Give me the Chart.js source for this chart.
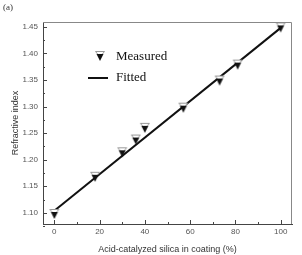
<!DOCTYPE html>
<html>
<head>
<meta charset="utf-8">
<script src="https://cdn.jsdelivr.net/npm/chart.js@4"></script>
<style>
  html, body { margin: 0; padding: 0; background: #fff; }
  #wrap { width: 302px; height: 255px; position: relative; }
  #panel { position: absolute; left: 3px; top: 2px; font: 9px "Liberation Serif", serif; color: #333; }
</style>
</head>
<body>
<div id="wrap">
  <canvas id="refChart" width="302" height="255"></canvas>
  <div id="panel">(a)</div>
</div>
<script>
// silica fraction (%) and measured refractive index
const silica = [0, 18, 30, 36, 40, 57, 73, 81, 100];
const measured = [1.096, 1.166, 1.212, 1.236, 1.258, 1.296, 1.347, 1.377, 1.447];
// fitted straight line end points
const fitX = [0, 100];
const fitY = [1.104, 1.448];
const xTicks = [0, 20, 40, 60, 80, 100];
const yTicks = [1.10, 1.15, 1.20, 1.25, 1.30, 1.35, 1.40, 1.45];

document.addEventListener('DOMContentLoaded', function () {
  const ctx = document.getElementById('refChart').getContext('2d');

  // marker: open grey triangle slightly above a filled black one
  const marker = document.createElement('canvas');
  marker.width = 12; marker.height = 16;
  const m = marker.getContext('2d');
  m.beginPath(); m.moveTo(1.5, 2.5); m.lineTo(10.5, 2.5); m.lineTo(6, 8); m.closePath();
  m.fillStyle = '#fff'; m.fill(); m.strokeStyle = '#999'; m.lineWidth = 1; m.stroke();
  m.beginPath(); m.moveTo(2.5, 5); m.lineTo(9.5, 5); m.lineTo(6, 12); m.closePath();
  m.fillStyle = '#111'; m.fill();

  const frame = {
    id: 'frame',
    afterDraw(chart) {
      const c = chart.ctx, a = chart.chartArea;
      const xs = chart.scales.x, ys = chart.scales.y;
      c.save();
      c.strokeStyle = '#888'; c.lineWidth = 1;
      c.beginPath();
      c.moveTo(a.left, a.top + 0.5); c.lineTo(a.right - 0.5, a.top + 0.5); c.lineTo(a.right - 0.5, a.bottom);
      c.stroke();
      c.strokeStyle = '#444';
      c.beginPath();
      xTicks.forEach(function (v, i) {
        const px = Math.round(xs.getPixelForValue(v)) + 0.5;
        c.moveTo(px, a.bottom); c.lineTo(px, a.bottom - 4);
        if (i < xTicks.length - 1) {
          const pm = Math.round(xs.getPixelForValue((v + xTicks[i + 1]) / 2)) + 0.5;
          c.moveTo(pm, a.bottom); c.lineTo(pm, a.bottom - 2);
        }
      });
      yTicks.forEach(function (v, i) {
        const py = Math.round(ys.getPixelForValue(v)) + 0.5;
        c.moveTo(a.left, py); c.lineTo(a.left + 4, py);
        const pm = Math.round(ys.getPixelForValue(v - 0.025)) + 0.5;
        c.moveTo(a.left, pm); c.lineTo(a.left + 2, pm);
      });
      c.stroke();

      // legend inside the plot
      const ds = chart.data.datasets;
      c.font = '13px "Liberation Serif", serif';
      c.fillStyle = '#111'; c.textBaseline = 'middle';
      c.drawImage(marker, 94, 49);
      c.fillText(ds[0].label, 116, 57);
      c.strokeStyle = '#111'; c.lineWidth = 2;
      c.beginPath(); c.moveTo(88, 78); c.lineTo(108, 78); c.stroke();
      c.fillText(ds[1].label, 116, 78);
      c.restore();
    }
  };

  new Chart(ctx, {
    type: 'scatter',
    data: {
      datasets: [{
        label: 'Measured',
        data: silica.map(function (x, i) { return { x: x, y: measured[i] }; }),
        pointStyle: marker,
        order: 0
      },
      {
        label: 'Fitted',
        type: 'line',
        data: fitX.map(function (x, i) { return { x: x, y: fitY[i] }; }),
        borderColor: '#111',
        borderWidth: 2,
        pointRadius: 0,
        fill: false,
        order: 1
      }]
    },
    options: {
      responsive: false,
      animation: false,
      events: [],
      layout: { padding: { top: 22, right: 10, left: 0, bottom: 0 } },
      plugins: {
        legend: { display: false },
        tooltip: { enabled: false }
      },
      scales: {
        x: {
          type: 'linear',
          min: -5,
          max: 105,
          afterBuildTicks: function (s) { s.ticks = xTicks.map(function (v) { return { value: v }; }); },
          afterFit: function (s) { s.height = 31; },
          grid: { display: false, drawTicks: false, tickLength: 0 },
          border: { display: true, color: '#444', width: 1 },
          ticks: { color: '#555', font: { family: 'Liberation Sans', size: 8 }, padding: 3, maxRotation: 0 },
          title: {
            display: true,
            text: 'Acid-catalyzed silica in coating (%)',
            color: '#333',
            font: { family: 'Liberation Sans', size: 9 },
            padding: { top: 2, bottom: 0 }
          }
        },
        y: {
          type: 'linear',
          min: 1.079,
          max: 1.459,
          afterBuildTicks: function (s) { s.ticks = yTicks.map(function (v) { return { value: v }; }); },
          afterFit: function (s) { s.width = 43; },
          grid: { display: false, drawTicks: false, tickLength: 0 },
          border: { display: true, color: '#444', width: 1 },
          ticks: {
            color: '#555',
            font: { family: 'Liberation Sans', size: 8 },
            padding: 5,
            callback: function (v) { return v.toFixed(2); }
          },
          title: {
            display: true,
            text: 'Refractive index',
            color: '#333',
            font: { family: 'Liberation Sans', size: 9 },
            padding: { top: 10, bottom: 0 }
          }
        }
      }
    },
    plugins: [frame]
  });
});
</script>
</body>
</html>
